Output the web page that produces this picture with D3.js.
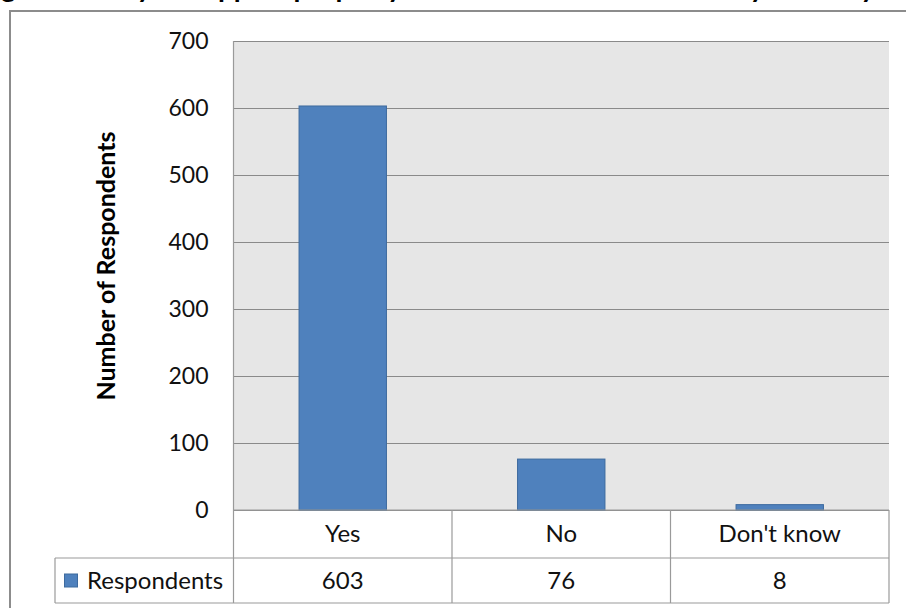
<!DOCTYPE html>
<html>
<head>
<meta charset="utf-8">
<script src="https://cdn.jsdelivr.net/npm/d3@7"></script>
<style>
  html, body { margin: 0; padding: 0; background: #fff; }
  svg { display: block; font-family: Lato, "Noto Sans", sans-serif; }
</style>
</head>
<body>
<svg id="chart" width="906" height="608"></svg>
<script>
// Survey responses
const categories = ["Yes", "No", "Don't know"];
const seriesName = "Respondents";
const values = [603, 76, 8];
const yTicks = [0, 100, 200, 300, 400, 500, 600, 700];
const titleText = "Figure 4: Do you support property tax reform across the county as a way of funding schools?";
const yAxisTitle = "Number of Respondents";

const svg = d3.select("#chart");

const plot = { left: 233.5, right: 889, top: 41, bottom: 510 };
const table = { row1: 558, row2: 603, legendLeft: 55 };
const tickFont = 23;
const tableFont = 24;

const y = d3.scaleLinear().domain([0, 700]).range([plot.bottom, plot.top]);
const xBars = d3.scaleBand().domain(categories).range([plot.left, plot.right])
  .paddingInner(0.6).paddingOuter(0.3);
const xCells = d3.scaleBand().domain(categories).range([plot.left, plot.right]).padding(0);

// outer chart frame (runs past the visible area on the right and bottom)
svg.append("rect")
  .attr("x", 10).attr("y", 11).attr("width", 1000).attr("height", 700)
  .attr("fill", "#fff").attr("stroke", "#8c8c8c").attr("stroke-width", 2);

// chart title, sitting above the frame so only its descenders show
svg.append("text")
  .attr("x", -22).attr("y", -3)
  .attr("font-size", 28).attr("font-weight", "bold").attr("fill", "#000")
  .text(titleText);

// plot background
svg.append("rect")
  .attr("x", plot.left).attr("y", plot.top)
  .attr("width", plot.right - plot.left).attr("height", plot.bottom - plot.top)
  .attr("fill", "#e6e6e6");

// horizontal gridlines and tick labels via a left axis
const yAxis = d3.axisLeft(y).tickValues(yTicks).tickSize(-(plot.right - plot.left)).tickPadding(25)
  .tickFormat(d3.format("d"));
const gy = svg.append("g").attr("transform", `translate(${plot.left},0)`).call(yAxis);
gy.select(".domain").remove();
gy.selectAll(".tick line").attr("stroke", "#8a8a8a").attr("stroke-width", 1.2);
gy.selectAll(".tick text").attr("font-size", tickFont).attr("font-family", "Lato, sans-serif")
  .attr("fill", "#111");

// bars
svg.append("g").selectAll("rect").data(categories).join("rect")
  .attr("x", d => xBars(d))
  .attr("width", xBars.bandwidth())
  .attr("y", (d, i) => y(values[i]))
  .attr("height", (d, i) => y(0) - y(values[i]))
  .attr("fill", "#4f81bd")
  .attr("stroke", "#3d6a9e").attr("stroke-width", 1);

// y axis title
svg.append("text")
  .attr("transform", "translate(115,266) rotate(-90)")
  .attr("text-anchor", "middle")
  .attr("font-size", 25).attr("font-weight", "bold").attr("fill", "#000")
  .text(yAxisTitle);

// data table beneath the plot
const tg = svg.append("g").attr("stroke", "#9a9a9a").attr("stroke-width", 1.2);
tg.append("line").attr("x1", plot.left).attr("x2", plot.left).attr("y1", plot.top).attr("y2", table.row2);
tg.append("line").attr("x1", plot.left).attr("x2", plot.right).attr("y1", plot.bottom).attr("y2", plot.bottom);
tg.append("line").attr("x1", table.legendLeft).attr("x2", plot.right).attr("y1", table.row1).attr("y2", table.row1);
tg.append("line").attr("x1", table.legendLeft).attr("x2", plot.right).attr("y1", table.row2).attr("y2", table.row2);
tg.append("line").attr("x1", table.legendLeft).attr("x2", table.legendLeft).attr("y1", table.row1).attr("y2", table.row2);
tg.selectAll("line.col").data(categories).join("line").attr("class", "col")
  .attr("x1", d => xCells(d) + xCells.bandwidth()).attr("x2", d => xCells(d) + xCells.bandwidth())
  .attr("y1", plot.bottom).attr("y2", table.row2);

const cx = d => xCells(d) + xCells.bandwidth() / 2;
svg.append("g").selectAll("text").data(categories).join("text")
  .attr("x", cx).attr("y", (plot.bottom + table.row1) / 2)
  .attr("dy", "0.35em").attr("text-anchor", "middle")
  .attr("font-size", tableFont).attr("fill", "#111")
  .text(d => d);
svg.append("g").selectAll("text").data(categories).join("text")
  .attr("x", cx).attr("y", (table.row1 + table.row2) / 2)
  .attr("dy", "0.35em").attr("text-anchor", "middle")
  .attr("font-size", tableFont).attr("fill", "#111")
  .text((d, i) => values[i]);

// legend key in the table
const rowMid = (table.row1 + table.row2) / 2;
svg.append("rect")
  .attr("x", 64.5).attr("y", rowMid - 6.5).attr("width", 13).attr("height", 13)
  .attr("fill", "#4f81bd").attr("stroke", "#3d6a9e").attr("stroke-width", 1);
svg.append("text")
  .attr("x", 87).attr("y", rowMid).attr("dy", "0.35em")
  .attr("font-size", tableFont).attr("fill", "#111")
  .text(seriesName);
</script>
</body>
</html>
